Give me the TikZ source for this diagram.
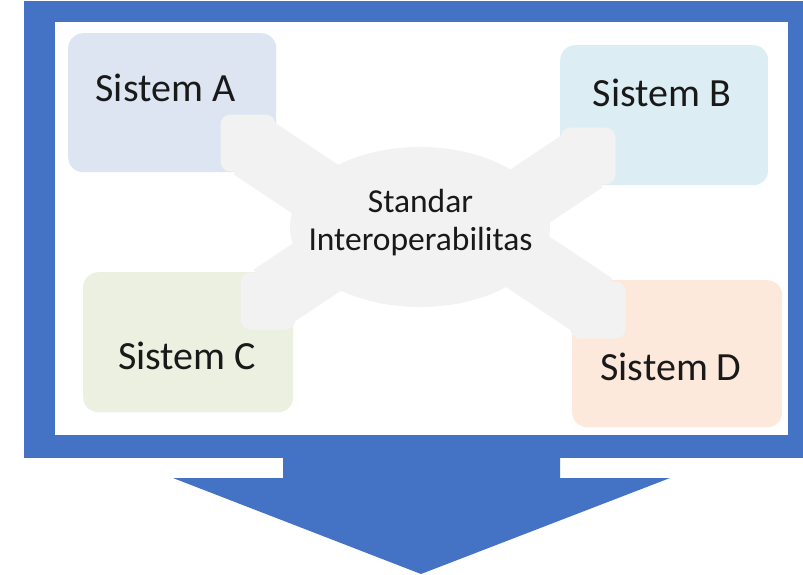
\documentclass[tikz,border=0pt]{standalone}
\usepackage{fontspec}
\setmainfont{Carlito}
\usetikzlibrary{shapes.geometric}

\definecolor{frameblue}{HTML}{4472C4}
\definecolor{sysA}{HTML}{DCE5F1}
\definecolor{sysB}{HTML}{DCEEF4}
\definecolor{sysC}{HTML}{EBF0E0}
\definecolor{sysD}{HTML}{FDE9DB}
\definecolor{hubgray}{HTML}{F2F2F2}

\begin{document}
\begin{tikzpicture}[x=1pt,y=-1pt,
    sysbox/.style={rectangle, rounded corners=15pt, inner sep=0pt, anchor=north west},
    armend/.style={rectangle, rounded corners=10pt, fill=hubgray, inner sep=0pt,
      minimum width=55pt, minimum height=57pt},
    arm/.style={hubgray, line width=66pt},
    systext/.style={anchor=base, text=black!90, font=\fontsize{40}{48}\selectfont}]

    % canvas
    \useasboundingbox (0,0) rectangle (803,574);
    \fill[white] (0,0) rectangle (803,574);

    % monitor frame and arrow
    \fill[frameblue] (24,1) rectangle (803,458);
    \fill[white] (55,22) rectangle (788,435);
    \fill[frameblue] (283,445) -- (560,445) -- (560,478) -- (670,478)
      -- (421,574) -- (173,478) -- (283,478) -- cycle;

    % system boxes
    \node[sysbox, fill=sysA, minimum width=208pt, minimum height=139pt] (boxA) at (68,33) {};
    \node[sysbox, fill=sysB, minimum width=208pt, minimum height=140pt] (boxB) at (560,45) {};
    \node[sysbox, fill=sysC, minimum width=210pt, minimum height=140pt] (boxC) at (83,272) {};
    \node[sysbox, fill=sysD, minimum width=210pt, minimum height=147pt] (boxD) at (572,280) {};

    % hub with four arms
    \node[ellipse, fill=hubgray, minimum width=260pt, minimum height=160pt, inner sep=0pt] (hub) at (420,227) {};
    \node[armend] (armA) at (248,143) {};
    \node[armend] (armB) at (588,156) {};
    \node[armend] (armC) at (268,301) {};
    \node[armend] (armD) at (598,310) {};
    \coordinate (inA) at (348,211);
    \coordinate (inB) at (488,224);
    \coordinate (inC) at (368,233);
    \coordinate (inD) at (498,242);
    \draw[arm] ([shift={(4,4)}]armA.center) -- (inA);
    \draw[arm] ([shift={(-4,4)}]armB.center) -- (inB);
    \draw[arm] ([shift={(4,-4)}]armC.center) -- (inC);
    \draw[arm] ([shift={(-4,-4)}]armD.center) -- (inD);

    % labels
    \node[systext] (txtA) at (165.5,101) {Sistem A};
    \node[systext] (txtB) at (662,106) {Sistem B};
    \node[systext] (txtC) at (187,369) {Sistem C};
    \node[systext] (txtD) at (671,380) {Sistem D};
    \node[anchor=base, align=center, text=black!90, font=\fontsize{33.5}{38}\selectfont] (std) at (420.5,250)
      {Standar\\Interoperabilitas};
\end{tikzpicture}
\end{document}
